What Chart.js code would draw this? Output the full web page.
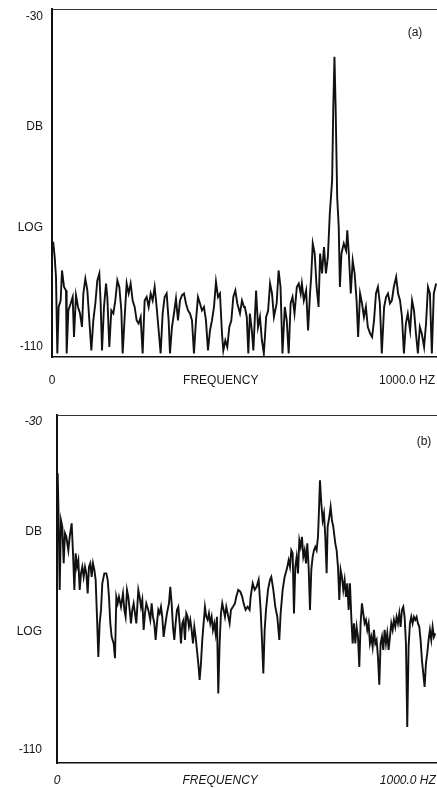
<!DOCTYPE html>
<html><head><meta charset="utf-8">
<script src="https://cdn.jsdelivr.net/npm/chart.js@4/dist/chart.umd.min.js"></script>
<style>
html,body{margin:0;padding:0;background:#fff;overflow:hidden;width:437px;height:788px;}
#wrap{position:relative;width:437px;height:788px;overflow:hidden;}
canvas{position:absolute;left:0;display:block;}
#ca{top:0}
#cb{top:394px}
</style></head><body>
<div id="wrap">
<canvas id="ca" width="445" height="394" style="width:445px;height:394px"></canvas>
<canvas id="cb" width="445" height="394" style="width:445px;height:394px"></canvas>
</div>
<script>
// ---- Panel (a): frequency (Hz) and level (dB) ----
const freqA = [3,6.9,10.3,13.7,17.2,22.3,25.8,31,36.1,37.8,42.1,48.1,53.3,56.7,61.8,67,72.2,77.3,80.8,85.9,91.1,96.2,101.4,106.5,111.7,116.8,122,125.4,128.9,134,139.2,142.6,147.7,152.9,158.1,163.2,168.4,173.5,178.7,182.1,187.3,192.4,197.6,202.7,207.9,213,218.2,223.3,228.5,233.6,238.8,244,249.1,254.3,259.4,264.6,269.7,274.9,280,285.2,290.3,295.5,300.6,304.1,309.2,314.4,319.5,324.7,329.9,335,340.2,345.3,350.5,355.6,360.8,365.9,371.1,376.2,381.4,386.5,391.7,396.8,402,407.2,412.3,417.5,422.6,427.8,432.9,438.1,441.5,446.7,451.8,457,462.2,467.3,472.5,477.6,484.5,489.7,494.8,
497,502,506,510,515,519,526,531,536,541,546,552,557,562,567,572,579,584,589,594,600,605,610,615,620,625,631,636,641,644,649,655,660,665,668,672,677,682,687,691,696,701,706,711,716,722,725,728,731,735,739,742,746,752,758,761,765,770,775,780,785,789,794,799,804,809,814,820,825,830,835,840,845,850,856,861,866,871,876,881,887,892,897,902,907,912,917,923,928,933,938,943,948,953,959,964,969,974,979,984,990];
const dbA = [-83.5,-87,-91.6,-109.2,-98.5,-97,-90.1,-93.9,-94.7,-109.2,-99.3,-97.7,-96.2,-105.4,-95.8,-98.5,-100,-103.1,-95.4,-92,-94.7,-101.6,-108.5,-101.6,-97.7,-92.4,-90.8,-97.7,-108.5,-98.5,-93.1,-96.2,-107.7,-99.3,-100,-97,-92.4,-93.9,-99.3,-109.2,-100.8,-93.1,-95.4,-93.1,-97,-98.5,-101.6,-102.3,-100.8,-109.2,-97,-96.2,-98.5,-95.4,-97,-93.9,-98.5,-103.9,-109.2,-100,-96.2,-95.4,-101.6,-109.2,-103.1,-100,-96.6,-101.6,-97,-95.8,-95.4,-97.7,-99.3,-100,-101.6,-109.2,-101.6,-96.2,-97.7,-99.3,-98.5,-101.6,-108.5,-103.9,-101.6,-98.5,-92.7,-96.2,-95.4,-104.6,-108.5,-106.2,-107.7,-103.1,-101.6,-96.2,-94.7,-97.7,-100,-97,-98.5,
-98.5,-100.8,-109.2,-100,-103.9,-108.5,-94.7,-103.1,-100.8,-106.2,-109.2,-100.8,-99.3,-93.1,-95.4,-100.8,-97.7,-90.1,-93.9,-109.2,-98.5,-101.6,-109.2,-97.7,-96.2,-100,-93.9,-93.1,-95.4,-93.1,-97,-94.7,-103.9,-95.4,-91.6,-83.9,-86.2,-93.9,-98.5,-86.2,-90.8,-84.7,-90.8,-87,-77,-69.3,-52.5,-41,-52.5,-73.2,-80.1,-93.9,-86.2,-83.9,-85.5,-80.9,-86.2,-95.4,-87.8,-90.8,-97,-105.4,-95.4,-97.7,-100.8,-98.5,-103.1,-104.6,-105.4,-101.6,-95.4,-93.9,-97.7,-109.2,-98.5,-96.2,-95.4,-97.7,-97,-93.9,-91.6,-95.4,-97,-100.8,-109.2,-102.3,-100,-103.9,-97,-99.3,-104.6,-109.2,-103.1,-104.6,-107.7,-102.3,-93.9,-95.4,-109.2,-95.4,-93.1];

// ---- Panel (b) ----
const freqB = [1.8,4.4,7,10.5,14,17.4,20.9,24.4,29.6,33.1,38.3,41.8,45.3,48.7,52.2,55.7,59.2,62.7,66.1,69.6,73.1,76.6,80.1,83.5,87,90.5,94,97.5,100.9,104.4,107.9,111.4,114.9,118.3,123.6,128.8,132.3,135.7,139.2,142.7,147.9,151.4,154.9,158.4,161.8,167.1,172.3,175.8,179.2,182.7,186.2,189.7,193.2,196.6,200.1,203.6,207.1,212.3,215.8,219.3,222.7,226.2,229.7,233.2,238.4,243.6,247.1,250.6,254.1,257.5,261,264.5,268,271.5,274.9,278.4,281.9,287.1,292.3,295.8,299.3,302.8,306.3,309.7,313.2,316.7,320.2,323.7,327.1,330.6,334.1,337.6,341.1,344.5,348,351.5,355,358.5,361.9,365.4,368.9,372.4,375.9,379.3,382.8,386.3,389.8,393.3,396.7,400.2,403.7,407.2,410.7,414.1,417.6,421.1,424.6,428.1,431.5,435,438.5,442,445.5,450.7,454.2,459.4,464.6,468.1,473.3,478.5,483.7,487.2,492.4,497.7,502.9,
505.6,510.9,516.1,521.3,526.5,531.7,535.2,538.7,542.2,545.7,550.9,556.1,559.6,564.8,570,575.2,580.5,583.9,589.2,594.4,599.6,604.8,608.3,611.8,615.3,618.7,622.2,625.7,629.2,632.7,636.1,639.6,643.1,646.6,650.1,653.5,657,660.5,664,667.5,670.9,674.4,677.9,681.4,683.1,686.6,690.1,693.6,697,700.5,704,706.6,711,714.4,717.9,721.4,726.6,730.1,733.6,737.1,740.5,744,747.5,751,754.5,757.9,761.4,764.9,768.4,771.9,775.3,778.8,782.3,785.8,789.3,792.7,796.2,799.7,803.2,806.7,810.1,813.6,817.1,820.6,824.1,827.5,831,834.5,838,841.5,844.9,848.4,851.9,855.4,858.9,862.3,865.8,869.3,872.8,876.3,879.7,883.2,886.7,890.2,893.7,897.1,900.6,904.1,907.6,911.1,914.5,918,921.5,925,928.5,931.9,935.4,938.9,942.4,945.9,949.3,952.8,956.3,959.8,963.3,966.7,970.2,973.7,977.2,980.7,984.1,987.6];
const dbB = [-43.4,-54.2,-70.2,-54.2,-55.7,-64.1,-57.2,-58,-61.1,-58,-54.9,-61.8,-70.2,-61.8,-64.9,-63.4,-70.2,-66.4,-64.9,-67.2,-64.9,-66.4,-71,-64.9,-64.1,-67.2,-64.1,-65.6,-67.9,-76.4,-85.6,-77.9,-74.8,-68.7,-66.4,-66.4,-67.9,-71.8,-77.9,-81,-82.5,-85.9,-71.8,-73.3,-71.8,-74.1,-71,-74.8,-76.4,-70.2,-71.8,-74.8,-77.9,-74.8,-73.3,-75.6,-77.9,-70.2,-71.8,-74.1,-72.5,-79.4,-75.6,-73.3,-74.8,-77.1,-73.3,-76.4,-77.9,-81.7,-77.9,-74.8,-75.6,-74.1,-76.4,-81,-78.7,-75.6,-73.3,-69.5,-73.3,-78.7,-81.7,-77.9,-74.8,-74.1,-77.9,-82.5,-77.9,-77.1,-81.7,-75.6,-76.4,-78.7,-77.1,-79.4,-82.5,-78.7,-81,-84,-87.1,-90.9,-87.1,-81.7,-77.9,-74.1,-76.4,-77.1,-75.6,-77.9,-76.4,-79.4,-77.9,-80.2,-76.4,-94,-82.5,-75.6,-73.3,-74.8,-76.4,-74.1,-75.6,-77.9,-74.8,-74.1,-73.3,-71.8,-70.2,-70.6,-71.8,-73.3,-74.8,-74.1,-74.8,
-71.8,-68.7,-70.2,-69.5,-67.9,-74.8,-81.7,-89.4,-79.4,-74.8,-70.2,-67.9,-67.2,-70.2,-74.1,-76.4,-81.7,-75.6,-70.2,-67.2,-65.6,-63.4,-64.9,-61.1,-61.8,-75.6,-64.9,-62.6,-66.4,-58.8,-60.3,-58,-62.6,-61.1,-64.1,-59.5,-64.9,-74.8,-65.6,-62.6,-61.1,-60.3,-61.1,-58,-54.2,-45,-50.3,-54.2,-52.6,-58,-66.4,-55.7,-53.4,-51.1,-54.2,-55.7,-59.5,-61.1,-64.9,-72.5,-65.6,-67.2,-70.2,-67.9,-71.8,-68.7,-74.8,-68.7,-76.4,-82.5,-77.9,-82.5,-78.7,-81,-87.9,-77.9,-73.3,-75.6,-77.9,-77.1,-79.4,-77.9,-82.5,-81,-83.3,-79.4,-82.5,-81.7,-85.6,-92,-82.5,-81,-84,-79.4,-82.5,-80.2,-84,-81,-77.9,-79.4,-77.1,-78.7,-76.4,-77.9,-75.6,-78.7,-74.8,-74.1,-76.4,-82.5,-101.7,-83.3,-77.9,-76.4,-77.9,-76.4,-77.1,-76.4,-77.9,-78.7,-81.7,-86.3,-89.4,-92.5,-87.1,-84.8,-81.7,-79.4,-81.7,-78.7,-81,-80.2];

// ---- Axis labels ----
const yTickLabels = ['-30', 'DB', 'LOG', '-110'];
const yTickPosA = [-31.8, -57.1, -80.3, -107.7];
const yTickPosB = [-31.6, -56.9, -79.9, -107.0];
const xTickLabels = ['0', 'FREQUENCY', '1000.0 HZ'];
const xTickPosA = [0, 435, 915];
const xTickPosB = [0, 426, 916];

const FONT = 'Liberation Sans, Arial, Helvetica, sans-serif';
const INK = '#151515';

function makeChart(id, freq, db, cfg) {
  const points = freq.map((f, i) => ({x: f, y: db[i]}));
  const panelPlugin = {
    id: 'panelFrame',
    afterDraw(chart) {
      const a = chart.chartArea, c = chart.ctx;
      c.save();
      c.strokeStyle = '#333';
      c.lineWidth = 1.2;
      c.beginPath();
      c.moveTo(a.left, a.top + 0.5);
      c.lineTo(a.right, a.top + 0.5);
      c.stroke();
      c.fillStyle = INK;
      c.font = '12px ' + FONT;
      c.textAlign = 'center';
      c.textBaseline = 'middle';
      c.fillText(cfg.tag, a.right - cfg.tagDx, a.top + cfg.tagDy);
      c.restore();
    }
  };
  return new Chart(document.getElementById(id), {
    type: 'line',
    data: {datasets: [{data: points, borderColor: '#111', borderWidth: 1.9,
      pointRadius: 0, tension: 0, fill: false}]},
    options: {
      responsive: false, maintainAspectRatio: false, animation: false, devicePixelRatio: 1,
      layout: {padding: {top: cfg.padTop, right: 5, left: 0, bottom: 0}},
      plugins: {legend: {display: false}, tooltip: {enabled: false}, title: {display: false}},
      scales: {
        x: {
          type: 'linear', min: 0, max: 1000,
          afterFit: s => { s.height = cfg.xAxisH; s.paddingLeft = 0; s.paddingRight = 0; },
          afterBuildTicks: s => { s.ticks = cfg.xTicks.map(v => ({value: v})); },
          ticks: {autoSkip: false, maxRotation: 0, minRotation: 0, padding: cfg.xPad, color: INK,
            font: ctx => ({family: FONT, size: 12, style: cfg.italicX ? 'italic' : 'normal'}),
            callback: (v, i) => xTickLabels[i]},
          grid: {display: false, drawTicks: false, tickLength: 0},
          border: {display: true, color: '#111', width: 1.5}
        },
        y: {
          type: 'linear', min: -110, max: -30,
          afterFit: s => { s.width = cfg.yAxisW; s.paddingTop = 0; s.paddingBottom = 0; },
          afterBuildTicks: s => { s.ticks = cfg.yTicks.map(v => ({value: v})); },
          ticks: {autoSkip: false, padding: cfg.yPad, color: INK,
            font: ctx => ({family: FONT, size: 12, style: (cfg.italicY[ctx.index] ? 'italic' : 'normal')}),
            callback: (v, i) => yTickLabels[i]},
          grid: {display: false, drawTicks: false, tickLength: 0},
          border: {display: true, color: '#111', width: 2}
        }
      }
    },
    plugins: [panelPlugin]
  });
}

makeChart('ca', freqA, dbA, {
  padTop: 9, xAxisH: 37, xPad: 16, yAxisW: 52, yPad: 9,
  xTicks: xTickPosA, yTicks: yTickPosA, italicX: false, italicY: [false, false, false, false],
  tag: '(a)', tagDx: 25, tagDy: 24
});
makeChart('cb', freqB, dbB, {
  padTop: 21, xAxisH: 25, xPad: 10, yAxisW: 57, yPad: 15,
  xTicks: xTickPosB, yTicks: yTickPosB, italicX: true, italicY: [true, false, false, false],
  tag: '(b)', tagDx: 16, tagDy: 27
});
</script>
</body></html>
